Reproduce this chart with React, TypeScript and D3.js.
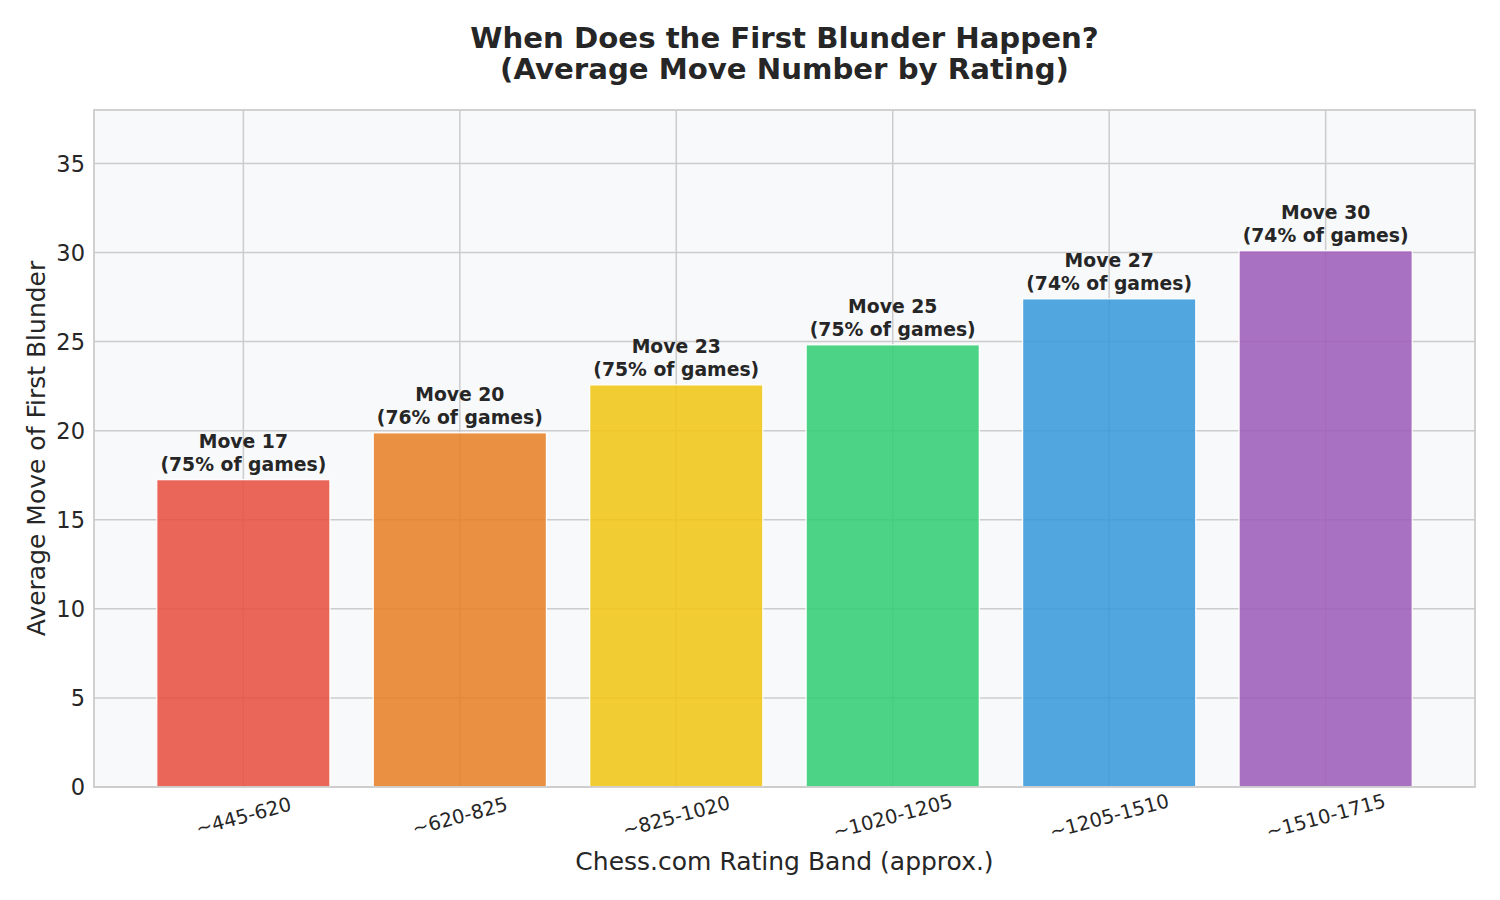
import React from 'react';
import * as d3 from 'd3';

const bands = ['~445-620', '~620-825', '~825-1020', '~1020-1205', '~1205-1510', '~1510-1715'];
const avgMove = [17.25, 19.88, 22.57, 24.82, 27.4, 30.1];
const pctGames = [75, 76, 75, 75, 74, 74];
const barColors = ['#e74c3c', '#e67e22', '#f1c40f', '#2ecc71', '#3498db', '#9b59b6'];
const yTicks = [0, 5, 10, 15, 20, 25, 30, 35];

const W = 1500;
const H = 900;
const margin = { top: 110, right: 25, bottom: 113, left: 94 };
const FONT = 'DejaVu Sans, sans-serif';

const App: React.FC = () => {
  const x = d3.scaleBand<string>()
    .domain(bands)
    .range([margin.left, W - margin.right])
    .paddingInner(0.2)
    .paddingOuter(0.29);

  const y = d3.scaleLinear()
    .domain([0, 38])
    .range([H - margin.bottom, margin.top]);

  const plotL = margin.left;
  const plotR = W - margin.right;
  const plotT = margin.top;
  const plotB = H - margin.bottom;
  const midX = (plotL + plotR) / 2;

  return (
    <svg width={W} height={H} style={{ position: 'absolute', left: 0, top: 0, background: '#fff' }} fontFamily={FONT}>
      {/* plot background */}
      <rect x={plotL} y={plotT} width={plotR - plotL} height={plotB - plotT} fill="#f8f9fa" />

      {/* grid */}
      {yTicks.map(t => (
        <line key={'gy' + t} x1={plotL} x2={plotR} y1={y(t)} y2={y(t)} stroke="#cccccc" strokeWidth={1.5} />
      ))}
      {bands.map(b => {
        const cx = (x(b) as number) + x.bandwidth() / 2;
        return <line key={'gx' + b} x1={cx} x2={cx} y1={plotT} y2={plotB} stroke="#cccccc" strokeWidth={1.5} />;
      })}

      {/* bars */}
      {bands.map((b, i) => (
        <rect
          key={'bar' + b}
          x={x(b) as number}
          y={y(avgMove[i])}
          width={x.bandwidth()}
          height={y(0) - y(avgMove[i])}
          fill={barColors[i]}
          fillOpacity={0.85}
          stroke="#ffffff"
          strokeWidth={1.2}
        />
      ))}

      {/* bar labels */}
      {bands.map((b, i) => {
        const cx = (x(b) as number) + x.bandwidth() / 2;
        const base = y(avgMove[i]) - 9;
        return (
          <text key={'lbl' + b} x={cx} textAnchor="middle" fontWeight="bold" fontSize={18.8} fill="#262626">
            <tspan x={cx} y={base - 23}>{`Move ${Math.round(avgMove[i])}`}</tspan>
            <tspan x={cx} y={base}>{`(${pctGames[i]}% of games)`}</tspan>
          </text>
        );
      })}

      {/* spines */}
      <rect x={plotL} y={plotT} width={plotR - plotL} height={plotB - plotT} fill="none" stroke="#cccccc" strokeWidth={1.8} />

      {/* y tick labels */}
      {yTicks.map(t => (
        <text key={'yt' + t} x={plotL - 9} y={y(t)} dy="0.36em" textAnchor="end" fontSize={22.5} fill="#262626">{t}</text>
      ))}

      {/* x tick labels */}
      {bands.map(b => {
        const cx = (x(b) as number) + x.bandwidth() / 2;
        const cy = plotB + 29;
        return (
          <text key={'xt' + b} x={cx} y={cy} dy="0.36em" textAnchor="middle" fontSize={19.5} fill="#262626"
            transform={`rotate(-15, ${cx}, ${cy})`}>{b}</text>
        );
      })}

      {/* axis labels */}
      <text x={midX} y={861} dy="0.36em" textAnchor="middle" fontSize={25} fill="#262626">Chess.com Rating Band (approx.)</text>
      <text x={36} y={(plotT + plotB) / 2} dy="0.36em" textAnchor="middle" fontSize={25} fill="#262626"
        transform={`rotate(-90, 36, ${(plotT + plotB) / 2})`}>Average Move of First Blunder</text>

      {/* title */}
      <text x={midX} textAnchor="middle" fontWeight="bold" fontSize={29.2} fill="#262626">
        <tspan x={midX} y={48}>When Does the First Blunder Happen?</tspan>
        <tspan x={midX} y={79}>(Average Move Number by Rating)</tspan>
      </text>
    </svg>
  );
};

export default App;
